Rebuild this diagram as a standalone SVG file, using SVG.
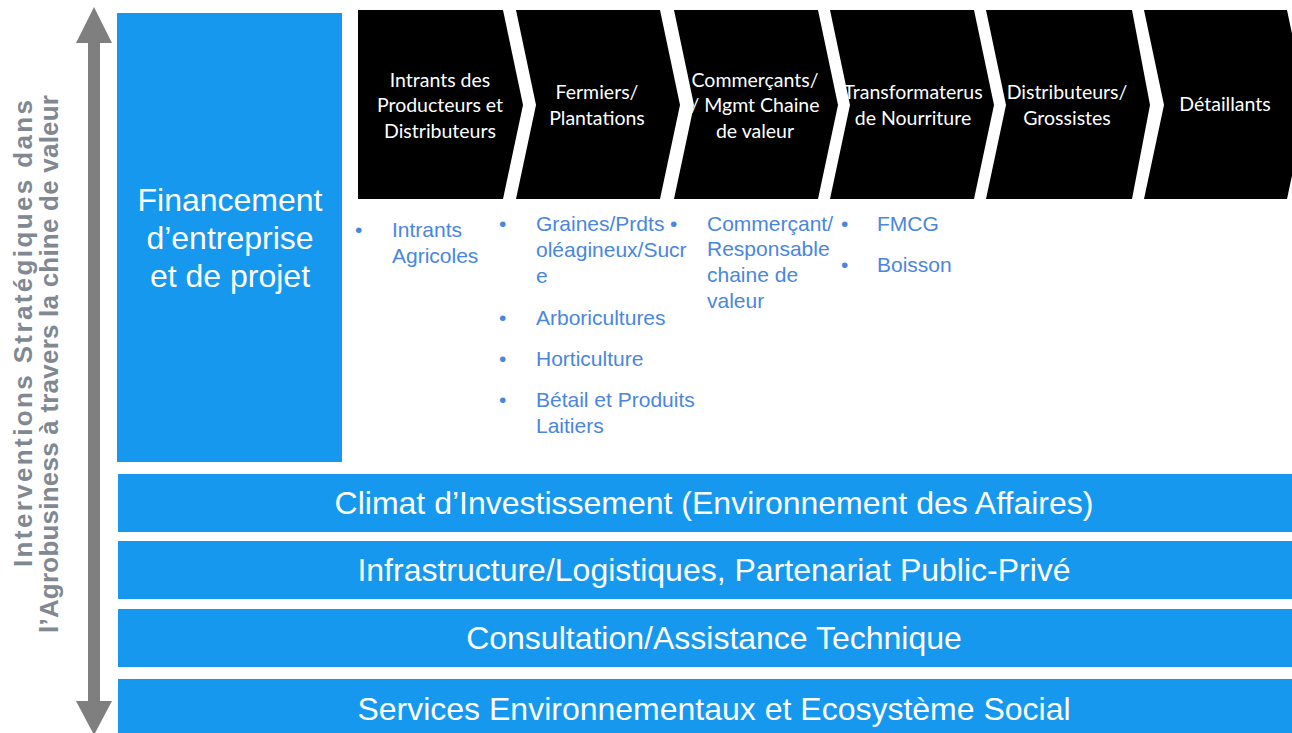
<svg xmlns="http://www.w3.org/2000/svg" width="1292" height="733" viewBox="0 0 1292 733">
<style>
.blue{fill:#1598EE}
.chev{fill:#000000}
.ct{font-family:Lato,"Liberation Sans",sans-serif;font-size:19.5px;fill:#FFFFFF;text-anchor:middle}
.bt{font-family:"Liberation Sans",Arial,sans-serif;font-size:21px;fill:#4A86E0}
.bar{font-family:"Liberation Sans",Arial,sans-serif;font-size:32px;fill:#FFFFFF;text-anchor:middle}
.side{font-family:"Liberation Sans",Arial,sans-serif;font-size:26px;font-weight:bold;fill:#808891}
.arr{fill:#7F7F7F}
</style>
<rect width="1292" height="733" fill="#FFFFFF"/>

<g id="connectors">
  <rect class="arr" x="88" y="42" width="12" height="660"/>
  <polygon class="arr" points="76,43 112,43 94,7"/>
  <polygon class="arr" points="76,701 112,701 94,735"/>
</g>

<g id="side-label">
  <text class="side" transform="rotate(-90)" x="-567" y="32" textLength="467" lengthAdjust="spacing">Interventions Stratégiques dans</text>
  <text class="side" transform="rotate(-90)" x="-633" y="58" textLength="538" lengthAdjust="spacing">l’Agrobusiness à travers la chine de valeur</text>
</g>

<g id="financement">
  <rect class="blue" x="117" y="13" width="225" height="449"/>
  <text class="bar" x="230" y="211">Financement</text>
  <text class="bar" x="230" y="249">d’entreprise</text>
  <text class="bar" x="230" y="287">et de projet</text>
</g>

<g id="chevron-1">
  <polygon class="chev" points="358,10 503,10 523,105 503,199 358,199"/>
  <text class="ct" x="440" y="87">Intrants des</text>
  <text class="ct" x="440" y="112">Producteurs et</text>
  <text class="ct" x="440" y="138">Distributeurs</text>
</g>
<g id="chevron-2">
  <polygon class="chev" points="516,10 660,10 680,105 660,199 516,199 536,105"/>
  <text class="ct" x="597" y="99">Fermiers/</text>
  <text class="ct" x="597" y="125">Plantations</text>
</g>
<g id="chevron-3">
  <polygon class="chev" points="674,10 818,10 838,105 818,199 674,199 694,105"/>
  <text class="ct" x="755" y="87">Commerçants/</text>
  <text class="ct" x="755" y="112">/ Mgmt Chaine</text>
  <text class="ct" x="755" y="138">de valeur</text>
</g>
<g id="chevron-4">
  <polygon class="chev" points="830,10 974,10 994,105 974,199 830,199 850,105"/>
  <text class="ct" x="913" y="99">Transformaterus</text>
  <text class="ct" x="913" y="125">de Nourriture</text>
</g>
<g id="chevron-5">
  <polygon class="chev" points="986,10 1132,10 1150,105 1132,199 986,199 1006,105"/>
  <text class="ct" x="1067" y="99">Distributeurs/</text>
  <text class="ct" x="1067" y="125">Grossistes</text>
</g>
<g id="chevron-6">
  <polygon class="chev" points="1144,10 1287,10 1307,105 1287,199 1144,199 1164,105"/>
  <text class="ct" x="1225" y="111">Détaillants</text>
</g>

<g id="list-intrants">
  <text class="bt" x="355" y="237">•</text>
  <text class="bt" x="392" y="237">Intrants</text>
  <text class="bt" x="392" y="263">Agricoles</text>
</g>
<g id="list-fermiers">
  <text class="bt" x="499" y="231">•</text>
  <text class="bt" x="536" y="231">Graines/Prdts</text>
  <text class="bt" x="536" y="257">oléagineux/Sucr</text>
  <text class="bt" x="536" y="283">e</text>
  <text class="bt" x="499" y="325">•</text>
  <text class="bt" x="536" y="325">Arboricultures</text>
  <text class="bt" x="499" y="366">•</text>
  <text class="bt" x="536" y="366">Horticulture</text>
  <text class="bt" x="499" y="407">•</text>
  <text class="bt" x="536" y="407">Bétail et Produits</text>
  <text class="bt" x="536" y="433">Laitiers</text>
</g>
<g id="list-commercants">
  <text class="bt" x="670" y="231">•</text>
  <text class="bt" x="707" y="231">Commerçant/</text>
  <text class="bt" x="707" y="256">Responsable</text>
  <text class="bt" x="707" y="282">chaine de</text>
  <text class="bt" x="707" y="308">valeur</text>
</g>
<g id="list-transformateurs">
  <text class="bt" x="841" y="231">•</text>
  <text class="bt" x="877" y="231">FMCG</text>
  <text class="bt" x="841" y="272">•</text>
  <text class="bt" x="877" y="272">Boisson</text>
</g>

<g id="bar-climat">
  <rect class="blue" x="118" y="474" width="1174" height="58"/>
  <text class="bar" x="714" y="514">Climat d’Investissement (Environnement des Affaires)</text>
</g>
<g id="bar-infrastructure">
  <rect class="blue" x="118" y="541" width="1174" height="58"/>
  <text class="bar" x="714" y="581">Infrastructure/Logistiques, Partenariat Public-Privé</text>
</g>
<g id="bar-consultation">
  <rect class="blue" x="118" y="609" width="1174" height="58"/>
  <text class="bar" x="714" y="649">Consultation/Assistance Technique</text>
</g>
<g id="bar-services">
  <rect class="blue" x="118" y="679" width="1174" height="54"/>
  <text class="bar" x="714" y="720">Services Environnementaux et Ecosystème Social</text>
</g>
</svg>
